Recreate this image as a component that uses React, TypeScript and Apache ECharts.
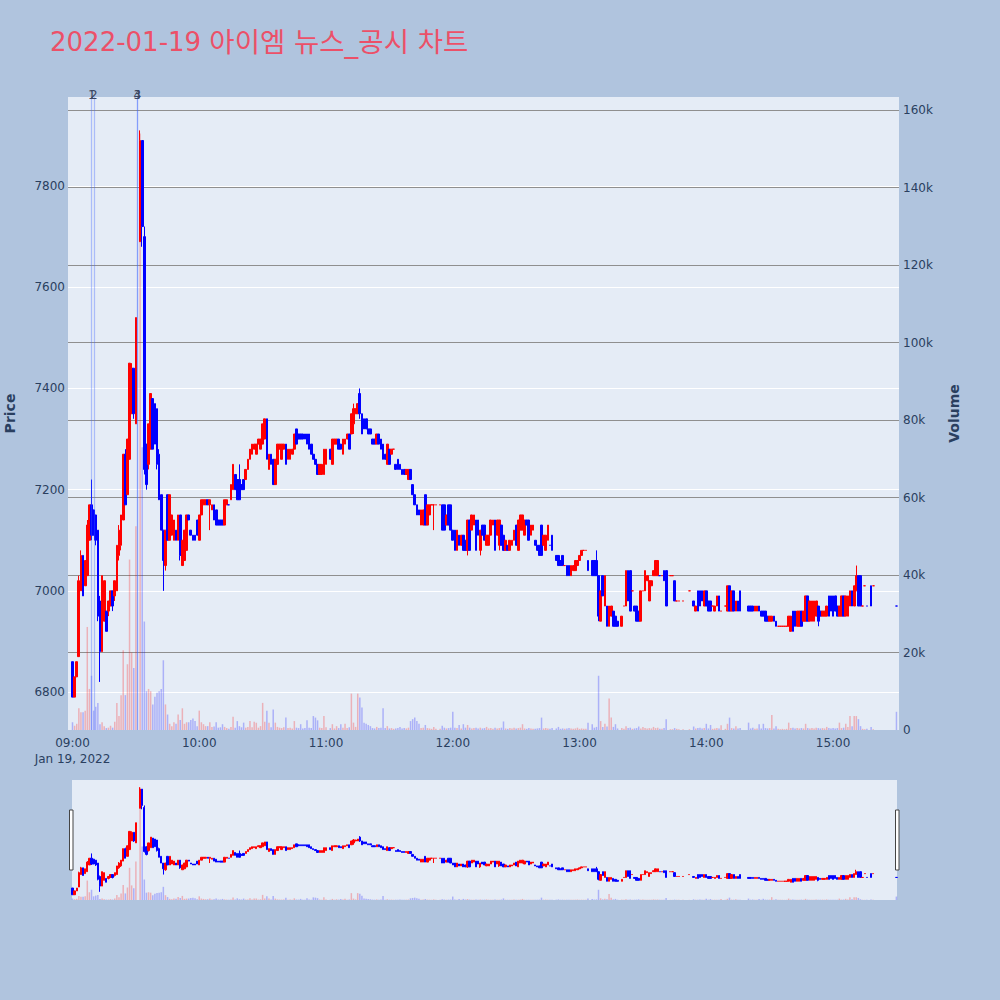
import React, { useEffect, useRef } from 'react';
import * as echarts from 'echarts';

const titleDate = '2022-01-19 ';
const titleName = '아이엠 뉴스_공시 차트';

// minutes after 09:00 (KST) on Jan 19, 2022
const minutes = [
  0, 1, 2, 3, 4, 5, 6, 7, 8, 9,
  10, 11, 12, 13, 14, 15, 16, 17, 18, 19,
  20, 21, 22, 23, 24, 25, 26, 27, 28, 29,
  30, 32, 33, 34, 35, 36, 37, 38, 39, 40,
  41, 42, 43, 44, 45, 46, 47, 48, 49, 50,
  51, 52, 53, 54, 55, 56, 57, 58, 59, 60,
  61, 62, 63, 64, 65, 66, 67, 68, 69, 70,
  71, 72, 73, 74, 75, 76, 77, 78, 79, 80,
  81, 82, 83, 84, 85, 86, 87, 88, 89, 90,
  91, 92, 93, 94, 95, 96, 97, 98, 99, 100,
  101, 102, 103, 104, 105, 106, 107, 108, 109, 110,
  111, 112, 113, 114, 115, 116, 117, 118, 119, 120,
  122, 123, 124, 125, 126, 127, 128, 129, 130, 131,
  132, 133, 134, 135, 136, 137, 138, 139, 140, 141,
  142, 143, 144, 145, 146, 147, 148, 149, 150, 151,
  152, 153, 154, 155, 156, 157, 158, 159, 160, 161,
  162, 163, 164, 165, 166, 167, 168, 169, 170, 171,
  172, 174, 175, 176, 177, 178, 179, 180, 181, 182,
  183, 184, 185, 186, 187, 188, 189, 190, 191, 192,
  193, 194, 195, 196, 197, 198, 199, 200, 201, 202,
  203, 204, 205, 206, 207, 208, 209, 210, 211, 212,
  213, 214, 215, 216, 217, 218, 219, 220, 221, 222,
  223, 224, 225, 226, 227, 229, 230, 231, 232, 233,
  234, 235, 236, 237, 238, 239, 240, 241, 242, 243,
  244, 246, 247, 248, 249, 250, 251, 252, 253, 254,
  255, 256, 257, 258, 260, 261, 262, 263, 264, 265,
  266, 267, 268, 269, 270, 271, 272, 273, 274, 275,
  276, 277, 278, 279, 280, 281, 283, 284, 285, 286,
  287, 289, 292, 294, 295, 296, 297, 298, 299, 300,
  301, 302, 303, 304, 305, 306, 307, 309, 310, 311,
  312, 313, 314, 315, 316, 320, 321, 322, 323, 324,
  325, 326, 327, 328, 329, 330, 331, 332, 333, 334,
  335, 336, 337, 338, 339, 340, 341, 342, 343, 344,
  345, 346, 347, 348, 349, 350, 351, 352, 353, 354,
  355, 356, 357, 358, 359, 360, 361, 362, 363, 364,
  365, 366, 367, 368, 369, 370, 371, 372, 373, 374,
  375, 376, 378, 379, 390,
];

const opens = [
  6860, 6790, 6830, 6870, 7000, 7070, 7010, 7030, 7100, 7170,
  7160, 7150, 7120, 6980, 6880, 6940, 6960, 6960, 6970, 7000,
  6990, 7000, 7070, 7090, 7140, 7270, 7190, 7260, 7350, 7440,
  7330, 7690, 7890, 7700, 7290, 7250, 7280, 7380, 7370, 7360,
  7270, 7190, 7120, 7050, 7190, 7100, 7110, 7100, 7120, 7100,
  7150, 7050, 7060, 7080, 7150, 7120, 7110, 7110, 7140, 7100,
  7150, 7170, 7170, 7180, 7170, 7160, 7170, 7160, 7140, 7140,
  7140, 7130, 7170, 7170, 7180, 7200, 7230, 7220, 7220, 7210,
  7220, 7220, 7240, 7260, 7270, 7280, 7270, 7290, 7280, 7290,
  7300, 7340, 7240, 7270, 7260, 7210, 7250, 7280, 7260, 7280,
  7290, 7260, 7260, 7270, 7280, 7320, 7310, 7310, 7310, 7310,
  7310, 7310, 7290, 7270, 7260, 7250, 7230, 7230, 7230, 7250,
  7280, 7250, 7290, 7290, 7300, 7290, 7270, 7290, 7300, 7310,
  7310, 7330, 7350, 7350, 7390, 7350, 7340, 7340, 7320, 7320,
  7300, 7300, 7290, 7310, 7300, 7290, 7270, 7250, 7280, 7270,
  7280, 7250, 7260, 7250, 7240, 7240, 7230, 7220, 7240, 7210,
  7190, 7170, 7160, 7130, 7130, 7190, 7130, 7150, 7170, 7170,
  7170, 7170, 7170, 7170, 7130, 7170, 7170, 7120, 7120, 7080,
  7110, 7090, 7110, 7100, 7080, 7140, 7120, 7130, 7140, 7140,
  7080, 7130, 7130, 7090, 7090, 7110, 7130, 7140, 7110, 7090,
  7130, 7110, 7080, 7090, 7080, 7090, 7100, 7130, 7080, 7120,
  7120, 7110, 7140, 7140, 7110, 7120, 7100, 7090, 7090, 7130,
  7090, 7080, 7100, 7090, 7110, 7070, 7070, 7060, 7070, 7050,
  7050, 7050, 7030, 7040, 7040, 7050, 7060, 7070, 7080, 7080,
  7060, 7060, 7060, 7060, 7030, 6940, 7030, 6970, 6970, 6930,
  6950, 6960, 6950, 6940, 6930, 6970, 6970, 7040, 7040, 7000,
  6970, 6970, 6960, 6940, 7000, 7000, 7020, 6980, 7010, 7030,
  7030, 7030, 7030, 7030, 7040, 7040, 7030, 7030, 7020, 6980,
  6980, 6980, 7000, 6980, 6960, 7000, 7000, 7000, 6970, 7000,
  6980, 6980, 6970, 6960, 6970, 6990, 6960, 6970, 6960, 7010,
  6960, 7000, 6960, 6980, 7000, 6970, 6970, 6970, 6960, 6960,
  6970, 6960, 6960, 6960, 6950, 6940, 6940, 6950, 6940, 6930,
  6930, 6930, 6930, 6930, 6930, 6920, 6960, 6960, 6930, 6930,
  6960, 6940, 6940, 6990, 6940, 6940, 6940, 6950, 6970, 6960,
  6950, 6950, 6950, 6990, 6990, 6990, 6990, 6970, 6950, 6950,
  6990, 6950, 6950, 6970, 7000, 6970, 7000, 7030, 7030, 6970,
  7010, 6970, 7010, 7010, 6970,
];

const closes = [
  6790, 6830, 6860, 7020, 7070, 6990, 7060, 7130, 7170, 7110,
  7110, 7100, 6950, 6880, 7030, 7020, 6920, 6980, 7000, 6970,
  7020, 7090, 7120, 7150, 7270, 7170, 7300, 7450, 7440, 7350,
  7540, 7890, 7720, 7240, 7210, 7330, 7390, 7280, 7290, 7250,
  7180, 7120, 7060, 7120, 7100, 7190, 7150, 7140, 7100, 7150,
  7070, 7100, 7120, 7150, 7140, 7110, 7100, 7100, 7110, 7150,
  7180, 7180, 7180, 7170, 7180, 7170, 7140, 7130, 7130, 7130,
  7130, 7180, 7180, 7170, 7210, 7250, 7200, 7180, 7180, 7200,
  7200, 7240, 7260, 7280, 7290, 7290, 7290, 7300, 7300, 7330,
  7340, 7260, 7270, 7250, 7210, 7260, 7290, 7290, 7290, 7290,
  7250, 7280, 7280, 7280, 7310, 7290, 7300, 7300, 7300, 7300,
  7290, 7280, 7270, 7260, 7250, 7230, 7250, 7250, 7280, 7280,
  7260, 7300, 7300, 7300, 7280, 7280, 7300, 7300, 7310, 7280,
  7350, 7360, 7360, 7370, 7350, 7310, 7320, 7320, 7310, 7310,
  7290, 7290, 7310, 7290, 7280, 7260, 7260, 7290, 7250, 7280,
  7280, 7240, 7240, 7240, 7230, 7230, 7240, 7240, 7220, 7190,
  7170, 7150, 7150, 7160, 7160, 7130, 7170, 7170, 7170, 7170,
  7170, 7170, 7120, 7120, 7150, 7130, 7120, 7100, 7080, 7120,
  7090, 7110, 7080, 7080, 7140, 7080, 7150, 7150, 7080, 7110,
  7120, 7110, 7100, 7110, 7110, 7140, 7140, 7080, 7140, 7140,
  7090, 7080, 7100, 7080, 7100, 7100, 7120, 7090, 7140, 7150,
  7150, 7140, 7130, 7100, 7130, 7130, 7090, 7080, 7070, 7070,
  7110, 7110, 7130, 7090, 7080, 7060, 7050, 7050, 7050, 7050,
  7030, 7030, 7050, 7050, 7060, 7060, 7070, 7080, 7080, 7080,
  7040, 7030, 7030, 7030, 6950, 7000, 6990, 7030, 6930, 6970,
  6970, 6930, 6930, 6930, 6950, 6970, 7040, 6980, 6960, 7000,
  6960, 6940, 6940, 7000, 7000, 7040, 7030, 7020, 7020, 7040,
  7060, 7060, 7030, 7030, 7020, 6970, 7030, 7030, 6980, 6980,
  6980, 6980, 7000, 6970, 6970, 6960, 6970, 6980, 7000, 6970,
  6960, 6960, 6970, 6970, 6990, 6960, 6960, 6970, 7010, 6960,
  7000, 6960, 6980, 6960, 6960, 6960, 6960, 6960, 6970, 6970,
  6960, 6950, 6950, 6940, 6940, 6950, 6950, 6940, 6930, 6930,
  6930, 6930, 6930, 6930, 6950, 6950, 6920, 6930, 6960, 6960,
  6930, 6960, 6990, 6940, 6980, 6980, 6980, 6980, 6940, 6950,
  6960, 6960, 6970, 6950, 6960, 6950, 6960, 6950, 6970, 6990,
  6950, 6990, 6990, 7000, 6970, 7010, 7030, 6970, 6970, 6970,
  7010, 6970, 6970, 7010, 6970,
];

const volumes = [
  2000, 1100, 1600, 5600, 4600, 4600, 5000, 26600, 10600, 14000,
  5000, 6000, 7000, 1500, 2000, 1000, 500, 600, 1100, 600,
  2100, 7000, 3600, 9000, 20600, 9000, 17000, 44000, 20000, 16000,
  52600, 154000, 73000, 28000, 10000, 10600, 10000, 6600, 8600, 9600,
  10000, 10600, 18000, 6600, 4000, 1600, 1000, 2000, 1600, 4000,
  2600, 5600, 1600, 2000, 2000, 2600, 3000, 2300, 1000, 5000,
  2000, 1500, 1000, 1000, 2000, 800, 900, 2000, 600, 700,
  1500, 800, 500, 300, 800, 3400, 600, 2300, 1000, 700,
  1900, 600, 800, 2300, 700, 2100, 1900, 600, 1000, 7000,
  2100, 5000, 1900, 700, 5300, 1900, 800, 600, 500, 700,
  3200, 500, 600, 400, 2300, 600, 500, 1500, 400, 500,
  2500, 600, 500, 3600, 3200, 2500, 600, 500, 3600, 700,
  500, 1500, 400, 1000, 500, 1500, 600, 1600, 500, 700,
  9400, 1900, 800, 9400, 8400, 5800, 1900, 1600, 1300, 1000,
  500, 400, 800, 500, 600, 5600, 500, 1000, 400, 500,
  300, 400, 500, 800, 400, 500, 400, 600, 2300, 2800,
  3200, 2300, 1600, 500, 600, 1300, 500, 400, 300, 800,
  300, 300, 1100, 600, 400, 500, 600, 4700, 600, 500,
  1300, 400, 1500, 600, 1300, 600, 400, 500, 600, 400,
  600, 400, 500, 800, 400, 500, 300, 600, 400, 500,
  600, 2200, 400, 300, 500, 400, 600, 400, 500, 600,
  1500, 400, 300, 500, 400, 300, 300, 400, 500, 3200,
  400, 500, 400, 300, 500, 400, 800, 300, 400, 300,
  400, 500, 400, 300, 400, 600, 300, 400, 300, 300,
  1900, 1500, 600, 800, 14000, 2300, 800, 1600, 900, 8100,
  3200, 800, 1500, 400, 500, 300, 1000, 500, 600, 300,
  400, 500, 900, 400, 800, 500, 400, 500, 400, 800,
  500, 600, 300, 300, 500, 2800, 200, 200, 500, 300,
  200, 200, 200, 900, 400, 500, 600, 400, 500, 1600,
  400, 1300, 300, 400, 500, 400, 1200, 300, 1600, 3200,
  500, 400, 1000, 400, 500, 1900, 400, 600, 300, 400,
  1500, 400, 1600, 500, 400, 500, 3900, 400, 1000, 300,
  200, 300, 200, 300, 1900, 500, 600, 400, 500, 400,
  500, 400, 1600, 500, 400, 500, 400, 600, 500, 400,
  500, 400, 800, 500, 400, 500, 400, 500, 1900, 500,
  600, 1600, 800, 3600, 1000, 3600, 3600, 2800, 1000, 300,
  200, 300, 800, 200, 4700,
];

// wick extremes that go beyond the candle body (minute -> price)
const wickHighs: Record<number, number> = {
  3: 7030, 4: 7080, 7: 7140, 9: 7220, 13: 6990, 22: 7130, 25: 7280, 28: 7450,
  32: 7910, 34: 7720, 41: 7280, 79: 7250, 133: 7370, 136: 7400, 248: 7080, 371: 7050,
};
const wickLows: Record<number, number> = {
  9: 7100, 11: 7090, 12: 6940, 13: 6820, 17: 6950, 19: 6960, 20: 6980, 22: 7060,
  23: 7080, 29: 7340, 33: 7680, 34: 7230, 35: 7200, 36: 7240, 40: 7240, 43: 7000,
  44: 7040, 51: 7060, 65: 7120, 133: 7310, 136: 7340, 171: 7120, 187: 7070,
  193: 7070, 202: 7080, 249: 6940, 353: 6930,
};

const hourTicks = [0, 60, 120, 180, 240, 300, 360];
const newsEvents = [
  { label: '1', minute: 9.1 },
  { label: '2', minute: 10.1 },
  { label: '3', minute: 30.62 },
  { label: '4', minute: 30.72 },
];

const FONT = '"DejaVu Sans", Verdana, "Noto Sans CJK KR", sans-serif';
const AXIS_TEXT = '#2a3f5f';
const UP = '#ff0000';
const DOWN = '#0000ff';
const UP_VOL = 'rgba(255,0,0,0.25)';
const DOWN_VOL = 'rgba(0,0,255,0.25)';

function pad(n: number) {
  return n < 10 ? '0' + n : String(n);
}
function timeLabel(m: number) {
  const h = 9 + Math.floor(m / 60);
  return pad(h) + ':' + pad(m % 60);
}

function buildOption() {
  const candles: any[] = [];
  const vols: any[] = [];
  minutes.forEach((m, i) => {
    const o = opens[i];
    const c = closes[i];
    const lo = wickLows[m] !== undefined ? wickLows[m] : Math.min(o, c);
    const hi = wickHighs[m] !== undefined ? wickHighs[m] : Math.max(o, c);
    const up = c > o || (c === o && (i === 0 || c >= closes[i - 1]));
    const col = up ? UP : DOWN;
    candles.push({
      value: [m, o, c, lo, hi],
      itemStyle: { color: col, color0: col, borderColor: col, borderColor0: col },
    });
    vols.push({ value: [m, volumes[i]], itemStyle: { color: up ? UP_VOL : DOWN_VOL } });
  });

  const candleBase = {
    type: 'candlestick',
    itemStyle: { color: UP, color0: DOWN, borderColor: UP, borderColor0: DOWN, borderWidth: 1 },
    encode: { x: 0, y: [1, 2, 3, 4] },
    data: candles,
    z: 3,
  };
  const volBase = {
    type: 'bar',
    barWidth: 1.5,
    data: vols,
    z: 2,
  };

  return {
    animation: false,
    backgroundColor: '#b0c4de',
    textStyle: { fontFamily: FONT },
    title: {
      text: '{d|' + titleDate + '}{k|' + titleName + '}',
      left: 50,
      top: 28,
      padding: 0,
      textStyle: {
        fontSize: 26,
        fontWeight: 'normal',
        color: '#ec5068',
        fontFamily: FONT,
        rich: {
          d: { fontSize: 26, color: '#ec5068', fontFamily: FONT },
          k: { fontSize: 27.5, color: '#ec5068', fontFamily: FONT },
        },
      },
    },
    grid: [
      { left: 68, top: 97, width: 831, height: 633, show: true, backgroundColor: '#e5ecf6', borderWidth: 0, outerBoundsMode: 'none', containLabel: false },
      { left: 72, top: 780, width: 825, height: 120, show: true, backgroundColor: '#e5ecf6', borderWidth: 0, outerBoundsMode: 'none', containLabel: false },
    ],
    xAxis: [
      {
        type: 'value',
        gridIndex: 0,
        min: -2.13,
        max: 391.2,
        axisLine: { show: false },
        axisTick: { show: false, customValues: hourTicks },
        splitLine: { show: false },
        axisLabel: {
          customValues: hourTicks,
          color: AXIS_TEXT,
          fontSize: 12,
          margin: 5,
          lineHeight: 16,
          fontFamily: FONT,
          formatter: (v: number) => (v === 0 ? timeLabel(v) + '\nJan 19, 2022' : timeLabel(v)),
        },
      },
      { type: 'value', gridIndex: 1, min: -0.24, max: 390.3, show: false },
    ],
    yAxis: [
      {
        type: 'value',
        gridIndex: 0,
        position: 'left',
        min: 6725,
        max: 7976,
        splitNumber: 6,
        name: 'Price',
        nameLocation: 'middle',
        nameRotate: 90,
        nameGap: 51,
        nameTextStyle: { color: AXIS_TEXT, fontSize: 14, fontWeight: 'bold', fontFamily: FONT },
        axisLine: { show: false },
        axisTick: { show: false },
        axisLabel: {
          color: AXIS_TEXT,
          fontSize: 12,
          margin: 3,
          fontFamily: FONT,
          showMinLabel: false,
          showMaxLabel: false,
          formatter: (v: number) => (v % 200 === 0 ? String(v) : ''),
        },
        splitLine: { show: true, showMinLine: false, showMaxLine: false, lineStyle: { color: '#ffffff', width: 1 } },
      },
      {
        type: 'value',
        gridIndex: 0,
        position: 'right',
        min: 0,
        max: 163400,
        interval: 20000,
        name: 'Volume',
        nameLocation: 'middle',
        nameRotate: 90,
        nameGap: 48,
        nameTextStyle: { color: AXIS_TEXT, fontSize: 14, fontWeight: 'bold', fontFamily: FONT },
        axisLine: { show: false },
        axisTick: { show: false },
        axisLabel: {
          color: AXIS_TEXT,
          fontSize: 12,
          margin: 4,
          fontFamily: FONT,
          showMaxLabel: false,
          formatter: (v: number) => (v === 0 ? '0' : v % 20000 === 0 ? v / 1000 + 'k' : ''),
        },
        splitLine: { show: true, showMinLine: false, showMaxLine: false, lineStyle: { color: '#8f8f8f', width: 1 } },
      },
      { type: 'value', gridIndex: 1, min: 6735, max: 7985, show: false },
      { type: 'value', gridIndex: 1, min: 0, max: 164000, show: false },
    ],
    series: [
      { ...volBase, name: 'Volume', xAxisIndex: 0, yAxisIndex: 1 },
      {
        ...candleBase,
        name: 'Price',
        barWidth: 2.2,
        xAxisIndex: 0,
        yAxisIndex: 0,
        markLine: {
          silent: true,
          symbol: ['none', 'none'],
          animation: false,
          lineStyle: { color: 'rgba(60,100,255,0.35)', width: 1.2, type: 'solid' },
          label: { show: true, position: 'end', color: '#3b4660', fontSize: 12, distance: -4, fontFamily: FONT },
          emphasis: { disabled: true },
          data: newsEvents.map((e) => ({ xAxis: e.minute, label: { formatter: e.label } })),
        },
      },
      { ...volBase, name: 'VolumeMini', xAxisIndex: 1, yAxisIndex: 3 },
      { ...candleBase, name: 'PriceMini', barWidth: 1.8, xAxisIndex: 1, yAxisIndex: 2 },
    ],
    graphic: [
      { type: 'rect', shape: { x: 69.5, y: 810, width: 3.5, height: 60 }, style: { fill: '#ffffff', stroke: '#444444', lineWidth: 1 }, z: 100 },
      { type: 'rect', shape: { x: 895.5, y: 810, width: 3.5, height: 60 }, style: { fill: '#ffffff', stroke: '#444444', lineWidth: 1 }, z: 100 },
    ],
  };
}

export default function App() {
  const ref = useRef<HTMLDivElement>(null);
  useEffect(() => {
    if (!ref.current) return;
    const chart = echarts.init(ref.current, undefined, { renderer: 'svg' });
    chart.setOption(buildOption() as any);
    return () => chart.dispose();
  }, []);
  return (
    <div
      ref={ref}
      style={{ position: 'absolute', left: 0, top: 0, width: 1000, height: 1000 }}
    />
  );
}
